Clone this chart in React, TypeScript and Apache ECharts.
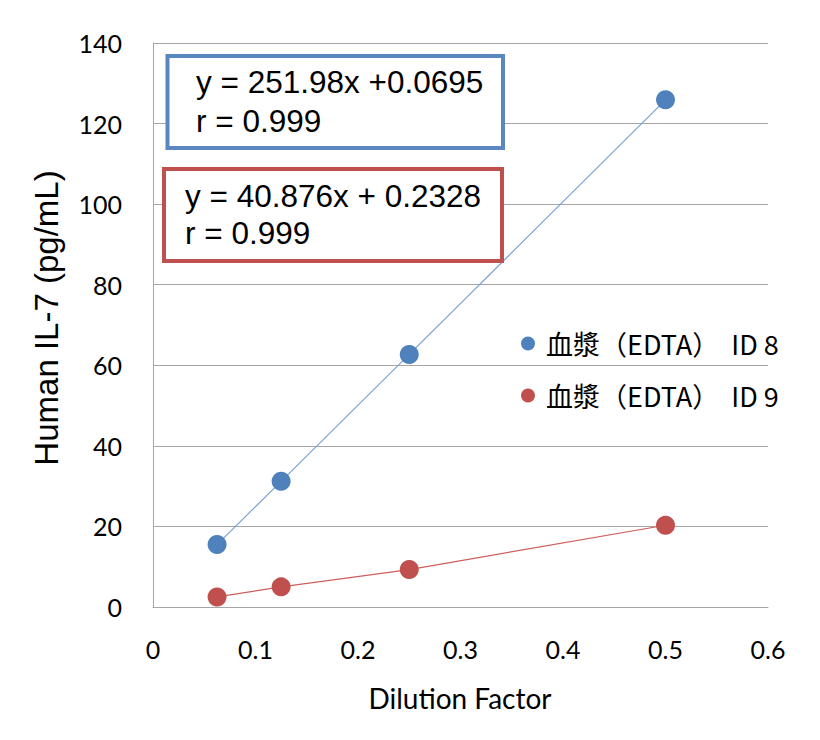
import React, { useEffect, useRef } from "react";
import * as echarts from "echarts";

const dilutionFactors = [0.0625, 0.125, 0.25, 0.5];
const id8Values = [15.5, 31.2, 62.7, 125.9];
const id9Values = [2.5, 5.0, 9.3, 20.3];
const seriesNames = ["血漿（EDTA）  ID 8", "血漿（EDTA）  ID 9"];
const equationId8 = ["y = 251.98x +0.0695", "r = 0.999"];
const equationId9 = ["y = 40.876x + 0.2328", "r = 0.999"];
const xTitle = "Dilution Factor";
const yTitle = "Human IL-7 (pg/mL)";

const BLUE = "#4F81BD";
const RED = "#C0504D";
const BLUE_LINE = "#7CA3D4";
const RED_LINE = "#CC5F5C";
const GRID = "#A6A6A6";

export default function App() {
  const ref = useRef<HTMLDivElement>(null);

  useEffect(() => {
    document.body.style.margin = "0";
    if (!ref.current) return;
    const chart = echarts.init(ref.current, null, { renderer: "svg" });
    const pts = (ys: number[]) => dilutionFactors.map((x, i) => [x, ys[i]]);
    const eqFont = "Liberation Sans";
    chart.setOption({
      animation: false,
      backgroundColor: "#fff",
      grid: { left: 153, right: 52, top: 43, bottom: 133, containLabel: false },
      xAxis: {
        type: "value",
        min: 0,
        max: 0.6,
        interval: 0.1,
        axisLine: { show: true, lineStyle: { color: GRID, width: 1 } },
        axisTick: { show: false },
        splitLine: { show: false },
        axisLabel: { fontFamily: "Lato", fontSize: 25, color: "#000", margin: 29 },
      },
      yAxis: {
        type: "value",
        min: 0,
        max: 140,
        interval: 20,
        axisLine: { show: true, lineStyle: { color: GRID, width: 1 } },
        axisTick: { show: false },
        splitLine: { show: true, lineStyle: { color: GRID, width: 1 } },
        axisLabel: { fontFamily: "Lato", fontSize: 25, color: "#000", margin: 31 },
      },
      legend: {
        orient: "vertical",
        left: 516,
        top: 325,
        itemGap: 25,
        itemWidth: 14,
        itemHeight: 14,
        icon: "circle",
        formatter: (name: string) => " " + name,
        textStyle: {
          fontFamily: "Noto Sans CJK JP",
          fontSize: 27,
          lineHeight: 27,
          color: "#000",
        },
        data: seriesNames,
      },
      series: [
        {
          name: seriesNames[0],
          type: "line",
          data: pts(id8Values),
          symbol: "circle",
          symbolSize: 19,
          itemStyle: { color: BLUE },
          lineStyle: { color: BLUE_LINE, width: 1.2 },
          z: 3,
        },
        {
          name: seriesNames[1],
          type: "line",
          data: pts(id9Values),
          symbol: "circle",
          symbolSize: 19,
          itemStyle: { color: RED },
          lineStyle: { color: RED_LINE, width: 1.2 },
          z: 3,
        },
      ],
      graphic: [
        {
          type: "text",
          x: 46,
          y: 318,
          rotation: Math.PI / 2,
          style: {
            text: yTitle,
            fontFamily: "Liberation Sans",
            fontSize: 33,
            fill: "#000",
            align: "center",
            verticalAlign: "middle",
          },
        },
        {
          type: "text",
          x: 460,
          y: 698,
          style: {
            text: xTitle,
            fontFamily: "Lato",
            fontSize: 28,
            fill: "#000",
            align: "center",
            verticalAlign: "middle",
          },
        },
        {
          type: "rect",
          shape: { x: 167.5, y: 56, width: 335.5, height: 92 },
          style: { fill: "#fff", stroke: "#5A87C0", lineWidth: 4 },
          z: 10,
        },
        {
          type: "text",
          x: 196,
          y: 82,
          style: { text: equationId8[0], fontFamily: eqFont, fontSize: 31.5, fill: "#000", verticalAlign: "middle" },
          z: 11,
        },
        {
          type: "text",
          x: 196,
          y: 121,
          style: { text: equationId8[1], fontFamily: eqFont, fontSize: 31.5, fill: "#000", verticalAlign: "middle" },
          z: 11,
        },
        {
          type: "rect",
          shape: { x: 164, y: 169, width: 338, height: 92 },
          style: { fill: "#fff", stroke: RED, lineWidth: 4 },
          z: 10,
        },
        {
          type: "text",
          x: 185,
          y: 196,
          style: { text: equationId9[0], fontFamily: eqFont, fontSize: 31.5, fill: "#000", verticalAlign: "middle" },
          z: 11,
        },
        {
          type: "text",
          x: 185,
          y: 233,
          style: { text: equationId9[1], fontFamily: eqFont, fontSize: 31.5, fill: "#000", verticalAlign: "middle" },
          z: 11,
        },
      ],
    });
    return () => chart.dispose();
  }, []);

  return <div ref={ref} style={{ width: 820, height: 740 }} />;
}
